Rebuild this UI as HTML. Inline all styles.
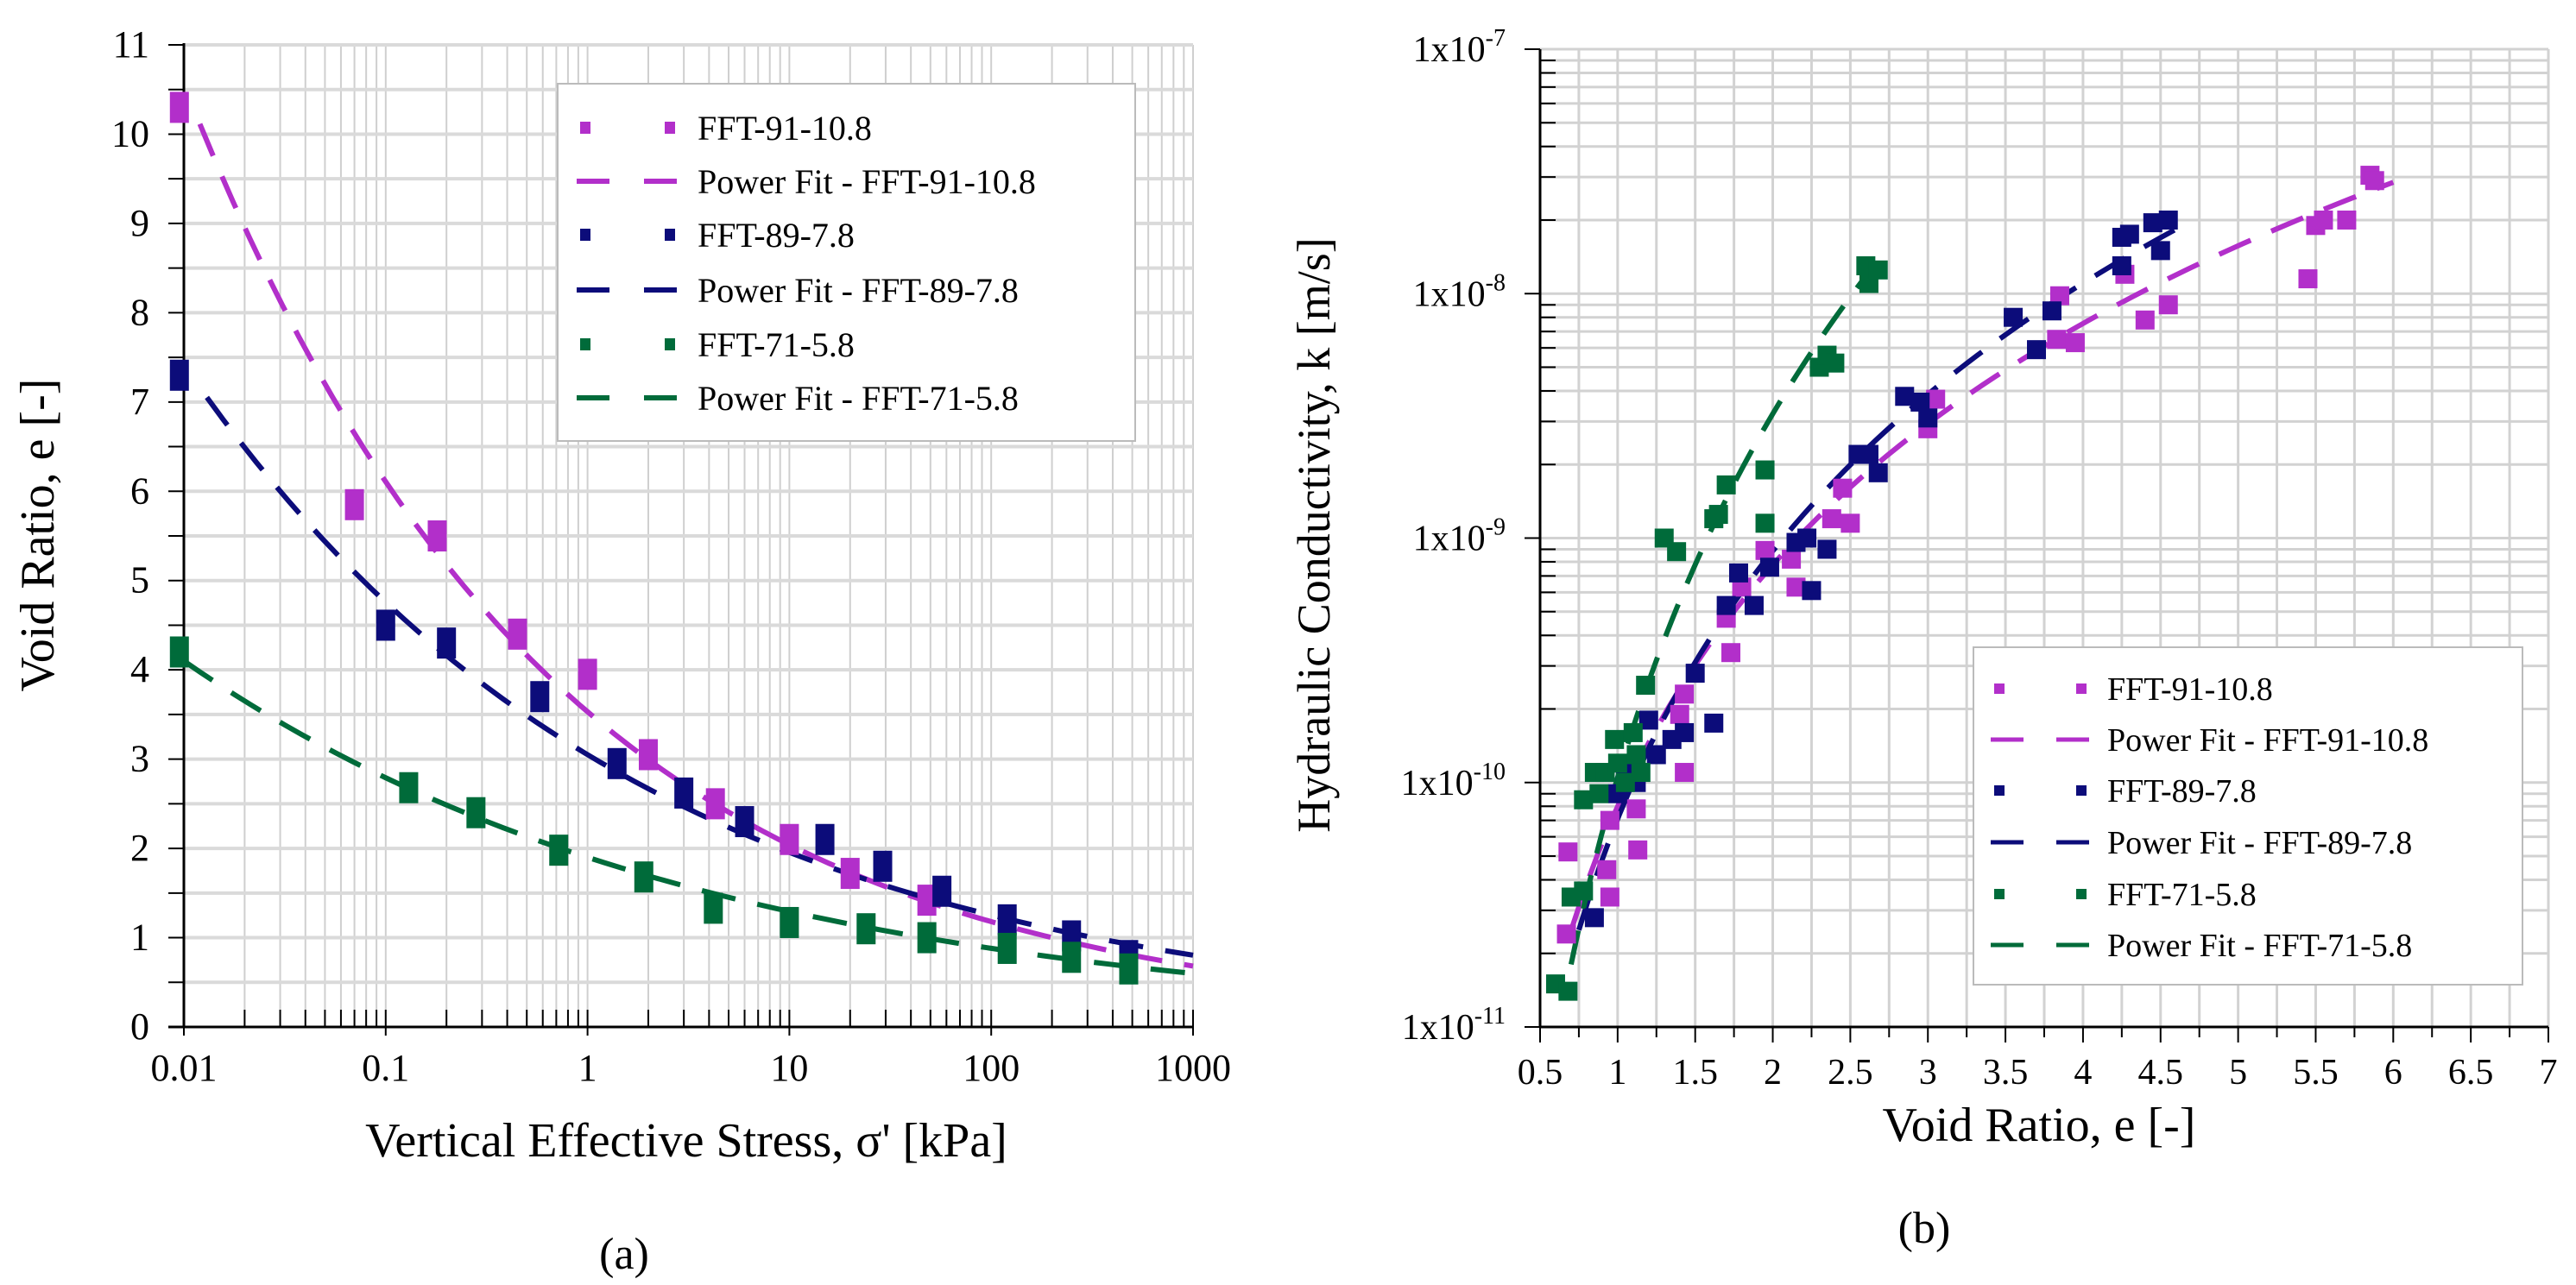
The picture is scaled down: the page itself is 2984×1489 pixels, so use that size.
<!DOCTYPE html>
<html><head><meta charset="utf-8"><style>
html,body{margin:0;padding:0;background:#fff;}
svg{display:block;}
svg text{font-family:"Liberation Serif","DejaVu Serif",serif;}
</style></head><body>
<svg id="fig" width="2984" height="1489" viewBox="0 0 2984 1489" xmlns="http://www.w3.org/2000/svg" font-family="Liberation Serif, serif">
<g id="chartA"></g>
<g id="chartB"></g>
</svg>
<script>
// ---------- Chart (a) data ----------
const aSeriesNames = ["FFT-91-10.8","FFT-89-7.8","FFT-71-5.8"];
const aColors = ["#b22fca","#0c0c7a","#006b3a"];
const aStress91 = [0.0095,0.07,0.18,0.45,1.0,2.0,4.3,10,20,48];
const aVoid91   = [10.3,5.85,5.5,4.4,3.95,3.05,2.5,2.1,1.72,1.42];
const aStress89 = [0.0095,0.1,0.2,0.58,1.4,3,6,15,29,57,120,250,480];
const aVoid89   = [7.3,4.5,4.3,3.7,2.95,2.62,2.3,2.1,1.8,1.52,1.2,1.02,0.8];
const aStress71 = [0.0095,0.13,0.28,0.72,1.9,4.2,10,24,48,120,250,480];
const aVoid71   = [4.2,2.68,2.4,1.98,1.68,1.33,1.17,1.1,1.0,0.88,0.78,0.65];
const aFitA = [3.53,3.05,1.9];
const aFitB = [-0.238,-0.193,-0.167];
const aFitStart = [0.012,0.013,0.01];
const aXTicks = ["0.01","0.1","1","10","100","1000"];
const aYTicks = ["0","1","2","3","4","5","6","7","8","9","10","11"];

// ---------- Chart (b) data ----------
const bE91 = [0.68,0.67,0.93,0.95,0.95,1.12,1.13,1.4,1.43,1.43,1.7,1.73,1.8,1.95,2.12,2.15,2.38,2.45,2.5,3.05,3.0,3.85,3.83,3.95,4.27,4.4,4.55,5.45,5.5,5.55,5.7,5.85,5.88];
const bK91 = [5.2e-11,2.4e-11,4.4e-11,3.4e-11,7e-11,7.8e-11,5.3e-11,1.9e-10,2.3e-10,1.1e-10,4.7e-10,3.4e-10,6.3e-10,8.9e-10,8.2e-10,6.3e-10,1.2e-9,1.6e-9,1.15e-9,3.7e-9,2.8e-9,9.8e-9,6.5e-9,6.3e-9,1.2e-8,7.8e-9,9e-9,1.15e-8,1.9e-8,2e-8,2e-8,3.05e-8,2.9e-8];
const bE89 = [0.85,1.0,1.05,1.12,1.2,1.25,1.35,1.43,1.5,1.62,1.7,1.78,1.88,1.98,2.15,2.22,2.25,2.35,2.55,2.62,2.68,2.85,2.95,3.0,3.55,3.7,3.8,4.25,4.3,4.25,4.45,4.5,4.55];
const bK89 = [2.8e-11,9e-11,1.1e-10,1.0e-10,1.8e-10,1.3e-10,1.5e-10,1.6e-10,2.8e-10,1.75e-10,5.3e-10,7.2e-10,5.3e-10,7.6e-10,9.6e-10,1.0e-9,6.1e-10,9e-10,2.2e-9,2.2e-9,1.85e-9,3.8e-9,3.6e-9,3.1e-9,8e-9,5.9e-9,8.5e-9,1.7e-8,1.75e-8,1.3e-8,1.95e-8,1.5e-8,2e-8];
const bE71 = [0.6,0.68,0.7,0.78,0.78,0.85,0.88,0.92,0.98,1.0,1.05,1.1,1.12,1.15,1.18,1.3,1.38,1.62,1.65,1.7,1.95,1.95,2.3,2.35,2.4,2.6,2.62,2.68];
const bK71 = [1.5e-11,1.4e-11,3.4e-11,3.6e-11,8.5e-11,1.1e-10,9e-11,1.1e-10,1.5e-10,1.2e-10,1.0e-10,1.6e-10,1.3e-10,1.1e-10,2.5e-10,1.0e-9,8.8e-10,1.2e-9,1.25e-9,1.65e-9,1.9e-9,1.15e-9,5e-9,5.6e-9,5.2e-9,1.3e-8,1.1e-8,1.25e-8];
const bFitA = [8e-11,7.1e-11,1.05e-10];
const bFitB = [3.28,3.64,4.94];
const bFitRange = [[0.7,6.0],[0.75,4.7],[0.7,2.65]];
const bXTicks = ["0.5","1","1.5","2","2.5","3","3.5","4","4.5","5","5.5","6","6.5","7"];
const bYExp = ["-11","-10","-9","-8","-7"];

const NS="http://www.w3.org/2000/svg";
function mk(parent,tag,attrs){const e=document.createElementNS(NS,tag);for(const k in attrs)e.setAttribute(k,attrs[k]);if(tag==='text')e.setAttribute('font-family','Liberation Serif, serif');parent.appendChild(e);return e;}

// ===== Chart A =====
(function(){
const g=document.getElementById('chartA');
const X0=213,X1=1382,Y0=1190,Y1=52;
const lx=v=>X0+(Math.log10(v)+2)/5*(X1-X0);
const ly=v=>Y0-v/11*(Y0-Y1);
for(let d=-2;d<3;d++)for(let m=2;m<10;m++){const x=lx(m*Math.pow(10,d));
 const l=mk(g,'line',{x1:x,x2:x,y1:Y1,y2:Y0,stroke:'#cfcfcf','stroke-width':2});
 
 const t=mk(g,'line',{x1:x,x2:x,y1:Y0,y2:Y0-20,stroke:'#000','stroke-width':2});
 }
for(let d=-2;d<=3;d++){const x=lx(Math.pow(10,d));
 const l=mk(g,'line',{x1:x,x2:x,y1:Y1,y2:Y0,stroke:'#cfcfcf','stroke-width':2});
 
 const t=mk(g,'line',{x1:x,x2:x,y1:Y0-20,y2:Y0+10,stroke:'#000','stroke-width':2});
 }
for(let i=1;i<=22;i++){const y=ly(i*0.5);
 const l=mk(g,'line',{x1:X0,x2:X1,y1:y,y2:y,stroke:'#dadada','stroke-width':4});
 
 const t=mk(g,'line',{x1:X0-18,x2:X0,y1:y,y2:y,stroke:'#000','stroke-width':2});
 }
let ax=mk(g,'line',{x1:X0,x2:X0,y1:Y1-2,y2:Y0,stroke:'#000','stroke-width':3});

ax=mk(g,'line',{x1:X0-18,x2:X1,y1:Y0,y2:Y0,stroke:'#000','stroke-width':3});

aYTicks.forEach(s=>{const t=mk(g,'text',{x:X0-40,y:ly(+s)+14,'font-size':44,'text-anchor':'end'});t.textContent=s;
 });
aXTicks.forEach(s=>{const t=mk(g,'text',{x:lx(+s),y:1252,'font-size':44,'text-anchor':'middle'});t.textContent=s;
 });
for(let i=0;i<3;i++){let pts=[];for(let j=0;j<=60;j++){const v=aFitStart[i]*Math.pow(1000/aFitStart[i],j/60);pts.push(lx(v)+','+ly(aFitA[i]*Math.pow(v,aFitB[i])));}
 const p=mk(g,'polyline',{points:pts.join(' '),fill:'none',stroke:aColors[i],'stroke-width':6,'stroke-dasharray':'40 26'});
 }
const sx=[aStress91,aStress89,aStress71],sy=[aVoid91,aVoid89,aVoid71];
for(let i=0;i<3;i++)sx[i].forEach((v,j)=>{const r=mk(g,'rect',{x:lx(v)-11,y:ly(sy[i][j])-18,width:22,height:36,fill:aColors[i]});
 });
let t=mk(g,'text',{x:795,y:1340,'font-size':56,'text-anchor':'middle'});t.textContent="Vertical Effective Stress, σ' [kPa]";

t=mk(g,'text',{x:0,y:0,'font-size':56,'text-anchor':'middle',transform:'translate(62,620) rotate(-90)'});t.textContent="Void Ratio, e [-]";

t=mk(g,'text',{x:723,y:1470,'font-size':52,'text-anchor':'middle'});t.textContent="(a)";

const lg=mk(g,'g',{});
mk(lg,'rect',{x:646,y:97,width:669,height:414,fill:'#fff',stroke:'#bbb','stroke-width':2});
const ys=[148,210,272,336,399,461];
for(let i=0;i<3;i++){
 const ya=ys[2*i],yb=ys[2*i+1];
 mk(lg,'rect',{x:672,y:ya-7,width:12,height:14,fill:aColors[i]});mk(lg,'rect',{x:770,y:ya-7,width:12,height:14,fill:aColors[i]});
 mk(lg,'line',{x1:668,x2:787,y1:yb,y2:yb,stroke:aColors[i],'stroke-width':6,'stroke-dasharray':'38 40'});
 let e=mk(lg,'text',{x:808,y:ya+14,'font-size':40});e.textContent=aSeriesNames[i];
 
 e=mk(lg,'text',{x:808,y:yb+14,'font-size':40});e.textContent="Power Fit - "+aSeriesNames[i];
 }
})();

// ===== Chart B =====
(function(){
const g=document.getElementById('chartB');
const X0=1784,X1=2952,Y0=1190,Y1=57;
const lx=v=>X0+(v-0.5)/6.5*(X1-X0);
const ly=v=>Y0-(Math.log10(v)+11)/4*(Y0-Y1);
for(let i=0;i<=26;i++){const v=0.5+i*0.25,x=lx(v);
 const l=mk(g,'line',{x1:x,x2:x,y1:Y1,y2:Y0,stroke:'#d2d2d2','stroke-width':3});
 
 const t=mk(g,'line',{x1:x,x2:x,y1:Y0,y2:Y0+(i%2?12:18),stroke:'#000','stroke-width':2});
 }
for(let d=-11;d<-7;d++)for(let m=1;m<10;m++){const y=ly(m*Math.pow(10,d));
 const l=mk(g,'line',{x1:X0,x2:X1,y1:y,y2:y,stroke:'#d2d2d2','stroke-width':3});
 
 const t=mk(g,'line',{x1:X0-(m==1?18:0),x2:X0+(m==1?0:18),y1:y,y2:y,stroke:'#000','stroke-width':2});
 }
mk(g,'line',{x1:X0,x2:X1,y1:Y1,y2:Y1,stroke:'#d2d2d2','stroke-width':3});
mk(g,'line',{x1:X0-18,x2:X0,y1:Y1,y2:Y1,stroke:'#000','stroke-width':2});
let ax=mk(g,'line',{x1:X0,x2:X0,y1:Y1,y2:Y0,stroke:'#000','stroke-width':3});

ax=mk(g,'line',{x1:X0,x2:X1,y1:Y0,y2:Y0,stroke:'#000','stroke-width':3});

bXTicks.forEach(s=>{const t=mk(g,'text',{x:lx(+s),y:1256,'font-size':42,'text-anchor':'middle'});t.textContent=s;
 });
bYExp.forEach(s=>{const t=mk(g,'text',{x:X0-40,y:ly(Math.pow(10,+s))+14,'font-size':42,'text-anchor':'end'});
 t.textContent="1x10";const sp=mk(t,'tspan',{dy:-18,'font-size':28});sp.textContent=s;
 });
for(let i=0;i<3;i++){let pts=[];const [a,b]=bFitRange[i];for(let j=0;j<=60;j++){const v=a+(b-a)*j/60;pts.push(lx(v)+','+ly(bFitA[i]*Math.pow(v,bFitB[i])));}
 const p=mk(g,'polyline',{points:pts.join(' '),fill:'none',stroke:aColors[i],'stroke-width':6,'stroke-dasharray':'40 26'});
 }
const sx=[bE91,bE89,bE71],sy=[bK91,bK89,bK71];
for(let i=0;i<3;i++)sx[i].forEach((v,j)=>{const r=mk(g,'rect',{x:lx(v)-11,y:ly(sy[i][j])-11,width:22,height:22,fill:aColors[i]});
 });
let t=mk(g,'text',{x:2362,y:1322,'font-size':56,'text-anchor':'middle'});t.textContent="Void Ratio, e [-]";

t=mk(g,'text',{x:0,y:0,'font-size':54,'text-anchor':'middle',transform:'translate(1540,620) rotate(-90)'});t.textContent="Hydraulic Conductivity, k [m/s]";

t=mk(g,'text',{x:2229,y:1440,'font-size':52,'text-anchor':'middle'});t.textContent="(b)";

const lg=mk(g,'g',{});
mk(lg,'rect',{x:2286,y:750,width:636,height:391,fill:'#fff',stroke:'#bbb','stroke-width':2});
const ys=[798,857,916,976,1036,1095];
for(let i=0;i<3;i++){
 const ya=ys[2*i],yb=ys[2*i+1];
 mk(lg,'rect',{x:2310,y:ya-6,width:12,height:12,fill:aColors[i]});mk(lg,'rect',{x:2405,y:ya-6,width:12,height:12,fill:aColors[i]});
 mk(lg,'line',{x1:2306,x2:2420,y1:yb,y2:yb,stroke:aColors[i],'stroke-width':5,'stroke-dasharray':'38 38'});
 let e=mk(lg,'text',{x:2441,y:ya+13,'font-size':38});e.textContent=aSeriesNames[i];
 
 e=mk(lg,'text',{x:2441,y:yb+13,'font-size':38});e.textContent="Power Fit - "+aSeriesNames[i];
 }
})();
</script>
</body></html>
